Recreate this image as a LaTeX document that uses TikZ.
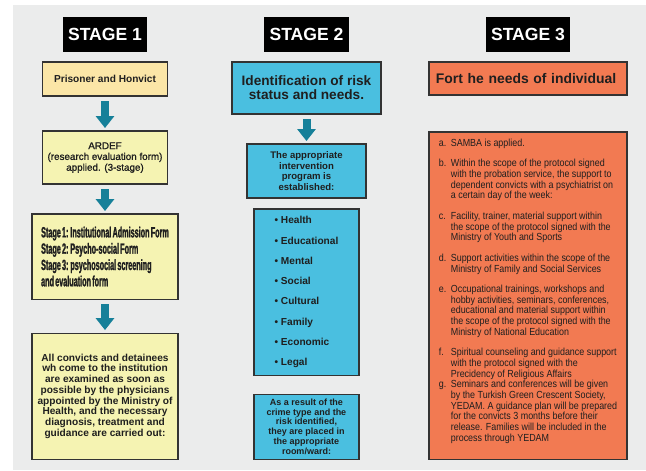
\documentclass[tikz,border=0pt]{standalone}
\usepackage{fontspec}
\setmainfont{Liberation Sans}
\newfontfamily\narrowfont[FakeStretch=0.49, WordSpace=0.6, FakeBold=1.5]{Liberation Sans}
\newfontfamily\condfont[FakeStretch=0.87]{Liberation Sans}
\newfontfamily\medfont[FakeBold=1.2]{Liberation Sans}
\usetikzlibrary{positioning, arrows.meta}
\definecolor{pagegray}{RGB}{235,236,236}
\definecolor{prisonyellow}{RGB}{251,230,167}
\definecolor{paleyellow}{RGB}{245,243,178}
\definecolor{riskblue}{RGB}{74,191,224}
\definecolor{needorange}{RGB}{242,122,82}
\definecolor{arrowteal}{RGB}{22,128,153}

\begin{document}
\begin{tikzpicture}[
  x=0.025cm, y=0.025cm,
  font=\bfseries,
  stage/.style={fill=black, text=white, font=\fontsize{12.5}{14}\selectfont\bfseries, minimum width=2.1cm, minimum height=0.875cm, inner sep=0pt, outer sep=0pt},
  box/.style={draw=black!80, line width=0.8pt, align=center, inner sep=2pt, outer sep=0pt, text=black!88},
  downarrow/.style={draw=arrowteal, line width=0.2cm, -{Triangle[width=0.45cm, length=0.3cm]}, shorten <=0.125cm, shorten >=0.075cm},
  node distance=0.25cm
]
  \useasboundingbox (0,0) rectangle (646,-470);
  \fill[pagegray] (13,-5) rectangle (646,-470);

  % Stage headers
  \node[stage, anchor=north] (s1) at (105,-17) {STAGE 1};
  \node[stage, anchor=north] (s2) at (306.5,-17) {STAGE 2};
  \node[stage, anchor=north] (s3) at (528,-17) {STAGE 3};

  % Stage 1 column
  \node[box, fill=prisonyellow, below=0.25cm of s1, minimum width=3.125cm, minimum height=0.85cm, font=\fontsize{7.2}{8}\selectfont\bfseries] (prisoner) {Prisoner and Honvict};
  \node[box, fill=paleyellow, below=0.875cm of prisoner, minimum width=3.125cm, minimum height=1.325cm, font=\medfont\fontsize{7}{7.7}\selectfont\mdseries] (ardef) {%
    ARDEF\\
    (research evaluation form)\\
    applied. (3-stage)};
  \draw[downarrow] (prisoner) -- (ardef);

  \node[box, fill=paleyellow, below=0.75cm of ardef, minimum width=3.65cm, minimum height=2.125cm, align=left, font=\narrowfont\fontsize{10.5}{11.6}\selectfont\bfseries] (forms) {%
    Stage 1: Institutional Admission Form\\
    Stage 2: Psycho-social Form\\
    Stage 3: psychosocial screening\\
    and evaluation form};
  \draw[downarrow] (ardef) -- (forms);

  \node[box, fill=paleyellow, below=0.85cm of forms, minimum width=3.65cm, minimum height=3.15cm, font=\fontsize{7.2}{7.6}\selectfont\bfseries] (convicts) {%
    All convicts and detainees\\
    wh come to the institution\\
    are examined as soon as\\
    possible by the physicians\\
    appointed by the Ministry of\\
    Health, and the necessary\\
    diagnosis, treatment and\\
    guidance are carried out:};
  \draw[downarrow] (forms) -- (convicts);

  % Stage 2 column
  \node[box, fill=riskblue, below=0.25cm of s2, minimum width=3.725cm, minimum height=1.3cm, font=\fontsize{9.7}{10}\selectfont\bfseries] (risk) {%
    Identification of risk\\
    status and needs.};
  \node[box, fill=riskblue, below=0.75cm of risk, minimum width=2.975cm, minimum height=1.35cm, font=\fontsize{6.8}{7.5}\selectfont\bfseries] (program) {%
    The appropriate\\
    intervention\\
    program is\\
    established:};
  \draw[downarrow] (risk) -- (program);

  \node[box, fill=riskblue, below=0.275cm of program, minimum width=2.625cm, minimum height=4.15cm, align=left, font=\fontsize{7.2}{14.4}\selectfont\bfseries] (areas) {%
    \textbullet\ Health\\
    \textbullet\ Educational\\
    \textbullet\ Mental\\
    \textbullet\ Social\\
    \textbullet\ Cultural\\
    \textbullet\ Family\\
    \textbullet\ Economic\\
    \textbullet\ Legal};

  \node[box, fill=riskblue, below=0.475cm of areas, minimum width=2.625cm, minimum height=1.625cm, font=\fontsize{6.4}{6.9}\selectfont\bfseries] (ward) {%
    As a result of the\\
    crime type and the\\
    risk identified,\\
    they are placed in\\
    the appropriate\\
    room/ward:};

  % Stage 3 column
  \node[box, fill=needorange, below=0.25cm of s3, minimum width=4.95cm, minimum height=0.825cm, align=left, text width=4.6cm, inner xsep=0.175cm, font=\fontsize{9.9}{11}\selectfont\bfseries] (needs) {Fort he needs of individual};

  \node[box, fill=needorange, below=0.925cm of needs, minimum width=4.95cm, minimum height=8.175cm, inner xsep=0.225cm, font=\condfont\fontsize{7.3}{7.6}\selectfont\mdseries] (support) {%
    \begin{tabular}{@{}p{0.3cm}@{}l@{}}
    a. & SAMBA is applied.\\[7pt]
    b. & Within the scope of the protocol signed\\
       & with the probation service, the support to\\
       & dependent convicts with a psychiatrist on\\
       & a certain day of the week:\\[7pt]
    c. & Facility, trainer, material support within\\
       & the scope of the protocol signed with the\\
       & Ministry of Youth and Sports\\[7pt]
    d. & Support activities within the scope of the\\
       & Ministry of Family and Social Services\\[7pt]
    e. & Occupational trainings, workshops and\\
       & hobby activities, seminars, conferences,\\
       & educational and material support within\\
       & the scope of the protocol signed with the\\
       & Ministry of National Education\\[7pt]
    f. & Spiritual counseling and guidance support\\
       & with the protocol signed with the\\
       & Precidency of Religious Affairs\\
    g. & Seminars and conferences will be given\\
       & by the Turkish Green Crescent Society,\\
       & YEDAM. A guidance plan will be prepared\\
       & for the convicts 3 months before their\\
       & release. Families will be included in the\\
       & process through YEDAM\\[5.5pt]
    \end{tabular}};
\end{tikzpicture}
\end{document}
